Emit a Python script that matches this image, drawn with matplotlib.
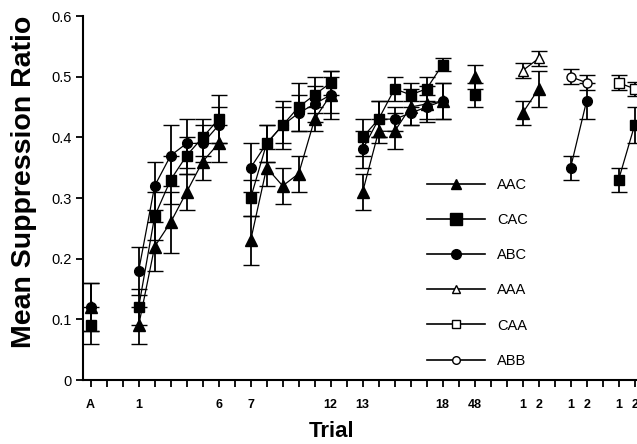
import numpy as np
import matplotlib
matplotlib.use("Agg")
import matplotlib.pyplot as plt
from matplotlib.lines import Line2D

plt.rcParams['font.family'] = ['Liberation Sans', 'DejaVu Sans']

# ---- data ----
tick_labels = ['A', '', '', '1', '', '', '', '', '6', '', '7', '', '', '', '', '12', '', '13',
               '', '', '', '', '18', '', '48', '', '', '1', '2', '', '1', '2', '', '1', '2']

pre_x = [0]
b1_x = [3, 4, 5, 6, 7, 8]
b2_x = [10, 11, 12, 13, 14, 15]
b3_x = [17, 18, 19, 20, 21, 22]
x48 = [24]
t1_x = [27, 28]
t2_x = [30, 31]
t3_x = [33, 34]

# AAC
aac_pre = [0.12]; aac_pre_e = [0.04]
aac_b1 = [0.09, 0.22, 0.26, 0.31, 0.36, 0.39]; aac_b1_e = [0.03, 0.04, 0.05, 0.03, 0.03, 0.03]
aac_b2 = [0.23, 0.35, 0.32, 0.34, 0.43, 0.47]; aac_b2_e = [0.04, 0.03, 0.03, 0.03, 0.02, 0.03]
aac_b3 = [0.31, 0.41, 0.41, 0.45, 0.455, 0.46]; aac_b3_e = [0.03, 0.02, 0.03, 0.03, 0.03, 0.03]
aac_48 = [0.50]; aac_48_e = [0.02]
aac_t = [0.44, 0.48]; aac_t_e = [0.02, 0.03]

# CAC
cac_pre = [0.09]; cac_pre_e = [0.03]
cac_b1 = [0.12, 0.27, 0.33, 0.37, 0.40, 0.43]; cac_b1_e = [0.03, 0.04, 0.04, 0.03, 0.03, 0.04]
cac_b2 = [0.30, 0.39, 0.42, 0.45, 0.47, 0.49]; cac_b2_e = [0.03, 0.03, 0.04, 0.04, 0.03, 0.02]
cac_b3 = [0.40, 0.43, 0.48, 0.47, 0.48, 0.52]; cac_b3_e = [0.03, 0.03, 0.02, 0.02, 0.02, 0.01]
cac_48 = [0.47]; cac_48_e = [0.02]
cac_t = [0.33, 0.42]; cac_t_e = [0.02, 0.03]

# ABC
abc_pre = [0.12]; abc_pre_e = [0.04]
abc_b1 = [0.18, 0.32, 0.37, 0.39, 0.39, 0.42]; abc_b1_e = [0.04, 0.04, 0.05, 0.04, 0.03, 0.03]
abc_b2 = [0.35, 0.39, 0.42, 0.44, 0.455, 0.47]; abc_b2_e = [0.04, 0.03, 0.03, 0.03, 0.03, 0.04]
abc_b3 = [0.38, 0.43, 0.43, 0.44, 0.45, 0.46]; abc_b3_e = [0.03, 0.03, 0.02, 0.02, 0.02, 0.03]
abc_t = [0.35, 0.46]; abc_t_e = [0.02, 0.03]

# Test-only groups
aaa_t = [0.51, 0.53]; aaa_t_e = [0.012, 0.012]
caa_t = [0.49, 0.48]; caa_t_e = [0.012, 0.012]
abb_t = [0.50, 0.49]; abb_t_e = [0.012, 0.012]

# ---- figure ----
fig = plt.figure(figsize=(6.37, 4.44), dpi=100)
ax = fig.add_axes([83 / 637, 1 - 380 / 444, 1 - 83 / 637, (380 - 16) / 444])

err_kw = dict(ecolor='black', elinewidth=1.3, capsize=6, capthick=1.3, color='black', lw=0.9)

def draw(xs, ys, es, marker, ms, face):
    ax.errorbar(xs, ys, yerr=es, marker=marker, ms=ms, mfc=face, mec='black',
                mew=1.0, zorder=3, **err_kw)

filled = [
    ('AAC', '^', 8, [(pre_x, aac_pre, aac_pre_e), (b1_x, aac_b1, aac_b1_e), (b2_x, aac_b2, aac_b2_e),
                     (b3_x, aac_b3, aac_b3_e), (x48, aac_48, aac_48_e), (t1_x, aac_t, aac_t_e)]),
    ('CAC', 's', 7.5, [(pre_x, cac_pre, cac_pre_e), (b1_x, cac_b1, cac_b1_e), (b2_x, cac_b2, cac_b2_e),
                       (b3_x, cac_b3, cac_b3_e), (x48, cac_48, cac_48_e), (t3_x, cac_t, cac_t_e)]),
    ('ABC', 'o', 7, [(pre_x, abc_pre, abc_pre_e), (b1_x, abc_b1, abc_b1_e), (b2_x, abc_b2, abc_b2_e),
                     (b3_x, abc_b3, abc_b3_e), (t2_x, abc_t, abc_t_e)]),
]
for name, mk, ms, segs in filled:
    for xs, ys, es in segs:
        draw(xs, ys, es, mk, ms, 'black')

opened = [
    ('AAA', '^', 7, t1_x, aaa_t, aaa_t_e),
    ('CAA', 's', 7, t3_x, caa_t, caa_t_e),
    ('ABB', 'o', 6.5, t2_x, abb_t, abb_t_e),
]
for name, mk, ms, xs, ys, es in opened:
    draw(xs, ys, es, mk, ms, 'white')

# legend proxies
leg_items = [('AAC', '^', 'black', 7), ('CAC', 's', 'black', 8), ('ABC', 'o', 'black', 7),
             ('AAA', '^', 'white', 6), ('CAA', 's', 'white', 6), ('ABB', 'o', 'white', 5.5)]
proxies = [Line2D([0], [0], color='black', lw=1.2, marker=m, mfc=f, mec='black', ms=s, mew=1.0)
           for _, m, f, s in leg_items]
ax.legend(proxies, [n for n, _, _, _ in leg_items], loc='upper left',
          bbox_to_anchor=((427 - 83) / 554, 1 - (178 - 16) / 364),
          frameon=False, fontsize=10.5, handlelength=4.0, handletextpad=0.8,
          labelspacing=1.45, borderpad=0, borderaxespad=0)

ax.set_xlim(-0.48, 34.15)
ax.set_ylim(0, 0.6)
ax.set_xticks(np.arange(len(tick_labels)))
ax.set_xticklabels(tick_labels, fontsize=9, fontweight='bold')
ax.set_yticks([0, 0.1, 0.2, 0.3, 0.4, 0.5, 0.6])
ax.set_yticklabels(['0', '0.1', '0.2', '0.3', '0.4', '0.5', '0.6'], fontsize=10.5)
ax.tick_params(axis='both', direction='out', length=5, width=1.3, color='black', pad=3)
ax.tick_params(axis='x', pad=9)
for s in ['top', 'right']:
    ax.spines[s].set_visible(False)
for s in ['left', 'bottom']:
    ax.spines[s].set_linewidth(1.5)
ax.set_ylabel('Mean Suppression Ratio', fontsize=20.5, fontweight='bold')
ax.yaxis.set_label_coords(-(83 - 37) / 554, (380 - 182) / 364)
ax.set_xlabel('Trial', fontsize=16, fontweight='bold')
ax.xaxis.set_label_coords((332 - 83) / 554, -(421 - 380) / 364)

fig.savefig('out.png', dpi=100)
